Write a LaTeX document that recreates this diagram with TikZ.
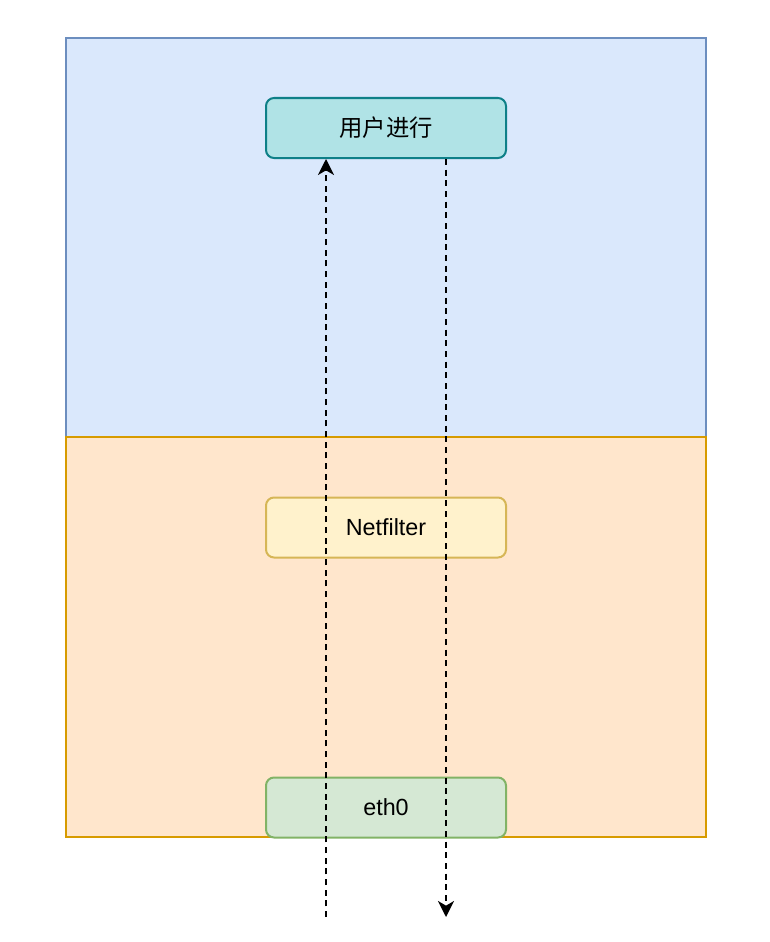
\documentclass[tikz,border=0pt]{standalone}
\usepackage{fontspec}
\setmainfont{Liberation Sans}
\newfontfamily\cjk{Noto Sans CJK SC}
\usetikzlibrary{arrows.meta}
\definecolor{userfill}{HTML}{DAE8FC}
\definecolor{userline}{HTML}{6C8EBF}
\definecolor{kernfill}{HTML}{FFE6CC}
\definecolor{kernline}{HTML}{D79B00}
\definecolor{procfill}{HTML}{B0E3E6}
\definecolor{procline}{HTML}{0E8088}
\definecolor{nffill}{HTML}{FFF2CC}
\definecolor{nfline}{HTML}{D6B656}
\definecolor{ethfill}{HTML}{D5E8D4}
\definecolor{ethline}{HTML}{82B366}
\begin{document}
\begin{tikzpicture}[x=0.75pt,y=-0.75pt,
    box/.style={draw,line width=1.5pt,rounded corners=6pt,minimum width=180pt,
      minimum height=45pt,inner sep=0pt,font=\fontsize{17.5}{20}\selectfont},
    flow/.style={line width=1.5pt,dash pattern=on 4.5pt off 3.5pt,
      -{Stealth[length=12pt,width=12pt,inset=3.5pt]}}]
  \useasboundingbox (0,0) rectangle (770,942);
  % layers
  \draw[fill=userfill,draw=userline,line width=1.5pt] (66,38) rectangle (706,437);
  \draw[fill=kernfill,draw=kernline,line width=1.5pt] (66,437) rectangle (706,837);
  % boxes
  \node[box,fill=procfill,draw=procline] (proc) at (386,128) {\cjk 用户进行};
  \node[box,fill=nffill,draw=nfline] (nf) at (386,527.5) {Netfilter};
  \node[box,fill=ethfill,draw=ethline] (eth) at (386,807.5) {eth0};
  % packet paths
  \coordinate (inlet) at (326,917);
  \coordinate (outlet) at (446,917);
  \draw[flow] (inlet) -- (proc.south -| inlet);
  \draw[flow] (proc.south -| outlet) -- (outlet);
\end{tikzpicture}
\end{document}
